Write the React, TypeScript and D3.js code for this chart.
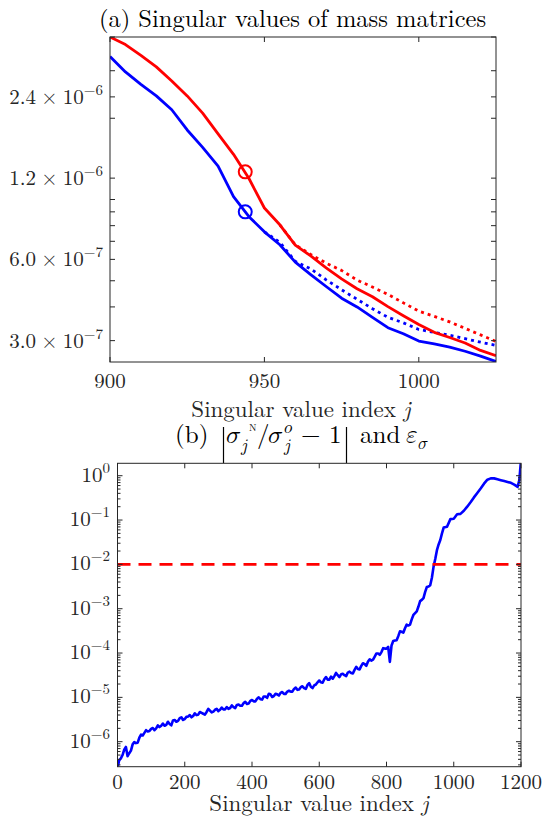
import React from 'react';
import * as d3 from 'd3';

// ---------- Panel (a) data ----------
const topIdx = [900, 905, 910, 915, 920, 925, 930, 935, 940, 945, 950, 955, 960, 965, 970, 975, 980, 985, 990, 995, 1000, 1005, 1010, 1015, 1020, 1025];
const redSolid = [4.0e-6, 3.75e-6, 3.42e-6, 3.10e-6, 2.75e-6, 2.42e-6, 2.09e-6, 1.75e-6, 1.47e-6, 1.196e-6, 9.3e-7, 8.06e-7, 6.78e-7, 6.18e-7, 5.58e-7, 5.08e-7, 4.67e-7, 4.36e-7, 4.01e-7, 3.71e-7, 3.44e-7, 3.22e-7, 3.08e-7, 2.94e-7, 2.76e-7, 2.64e-7];
const blueSolid = [3.39e-6, 2.97e-6, 2.67e-6, 2.42e-6, 2.15e-6, 1.81e-6, 1.56e-6, 1.33e-6, 1.024e-6, 8.64e-7, 7.59e-7, 6.8e-7, 5.86e-7, 5.27e-7, 4.76e-7, 4.31e-7, 4.0e-7, 3.66e-7, 3.35e-7, 3.18e-7, 2.99e-7, 2.92e-7, 2.84e-7, 2.74e-7, 2.63e-7, 2.51e-7];
const redDotIdx = [955, 960, 965, 970, 975, 980, 985, 990, 995, 1000, 1005, 1010, 1015, 1020, 1025];
const redDotted = [8.06e-7, 6.79e-7, 6.26e-7, 5.81e-7, 5.46e-7, 5.03e-7, 4.74e-7, 4.45e-7, 4.14e-7, 3.86e-7, 3.69e-7, 3.52e-7, 3.33e-7, 3.15e-7, 2.98e-7];
const blueDotIdx = [950, 955, 960, 965, 970, 975, 980, 985, 990, 995, 1000, 1005, 1010, 1015, 1020, 1025];
const blueDotted = [7.59e-7, 6.94e-7, 5.9e-7, 5.53e-7, 5.04e-7, 4.63e-7, 4.27e-7, 3.94e-7, 3.66e-7, 3.49e-7, 3.3e-7, 3.22e-7, 3.14e-7, 3.05e-7, 2.96e-7, 2.88e-7];
const markerIdx = 943.8;
const redMarker = 1.266e-6;
const blueMarker = 9.0e-7;
const topXTicks = [900, 950, 1000];
const topYTicks = [3e-7, 6e-7, 1.2e-6, 2.4e-6];
const topYTickMant = ['3.0', '6.0', '1.2', '2.4'];
const topYTickExp = ['−7', '−7', '−6', '−6'];
const topYMinor = [4e-7, 5e-7, 7e-7, 8e-7, 9e-7, 1e-6, 2e-6, 3e-6, 4e-6];

// ---------- Panel (b) data ----------
const botIdx = [
  1, 5, 10, 15, 20, 25, 30, 35, 40, 45, 50, 55, 60, 65, 70, 75, 80, 85, 90, 95,
  100, 105, 110, 115, 120, 125, 130, 135, 140, 145, 150, 155, 160, 165, 170, 175, 180, 185, 190, 195,
  200, 205, 210, 215, 220, 225, 230, 235, 240, 245, 250, 255, 260, 265, 270, 275, 280, 285, 290, 295,
  300, 305, 310, 315, 320, 325, 330, 335, 340, 345, 350, 355, 360, 365, 370, 375, 380, 385, 390, 395,
  400, 405, 410, 415, 420, 425, 430, 435, 440, 445, 450, 455, 460, 465, 470, 475, 480, 485, 490, 495,
  500, 505, 510, 515, 520, 525, 530, 535, 540, 545, 550, 555, 560, 565, 570, 575, 580, 585, 590, 595,
  600, 605, 610, 615, 620, 625, 630, 635, 640, 645, 650, 655, 660, 665, 670, 675, 680, 685, 690, 695,
  700, 705, 710, 715, 720, 725, 730, 735, 740, 745, 750, 755, 760, 765, 770, 775, 780, 785, 790, 795,
  800, 805, 810, 815, 820, 825, 830, 835, 840, 845, 850, 855, 860, 865, 870, 875, 880, 885, 890, 895,
  900, 905, 910, 915, 920, 925, 930, 935, 940, 945, 950, 955, 960, 965, 970, 980, 990,
  1000, 1010, 1020, 1030, 1040, 1050, 1060, 1070, 1080, 1090, 1100, 1110, 1120, 1130, 1140, 1150, 1160, 1170, 1180, 1190, 1195, 1200,
];
const relErr = [
  2.75e-7, 3.8e-7, 4.2e-7, 5.0e-7, 6.6e-7, 7.6e-7, 4.7e-7, 5.5e-7, 6.3e-7, 8.7e-7, 9.8e-7, 9.3e-7, 9.5e-7, 1.23e-6, 1.45e-6, 1.38e-6, 1.58e-6, 1.82e-6, 1.7e-6, 1.74e-6,
  1.95e-6, 2.04e-6, 1.82e-6, 2.0e-6, 2.34e-6, 2.14e-6, 2.29e-6, 2.57e-6, 2.29e-6, 2.4e-6, 2.82e-6, 2.51e-6, 2.34e-6, 3.02e-6, 3.09e-6, 2.82e-6, 2.95e-6, 3.39e-6, 3.55e-6, 3.09e-6,
  3.24e-6, 3.63e-6, 3.72e-6, 3.98e-6, 3.55e-6, 3.8e-6, 4.37e-6, 3.98e-6, 4.07e-6, 4.68e-6, 4.47e-6, 4.27e-6, 4.07e-6, 4.68e-6, 5.5e-6, 5.01e-6, 4.57e-6, 4.79e-6, 5.25e-6, 5.5e-6,
  4.9e-6, 5.25e-6, 5.89e-6, 5.37e-6, 5.37e-6, 6.03e-6, 5.5e-6, 5.75e-6, 6.61e-6, 6.03e-6, 5.75e-6, 6.76e-6, 6.92e-6, 6.46e-6, 6.46e-6, 7.41e-6, 7.94e-6, 7.08e-6, 7.24e-6, 8.32e-6,
  8.71e-6, 8.13e-6, 8.13e-6, 9.33e-6, 1.0e-5, 9.12e-6, 8.91e-6, 1.05e-5, 1.05e-5, 9.77e-6, 1.2e-5, 1.17e-5, 1.02e-5, 1.07e-5, 1.2e-5, 1.17e-5, 1.1e-5, 1.26e-5, 1.32e-5, 1.2e-5,
  1.2e-5, 1.35e-5, 1.41e-5, 1.35e-5, 1.35e-5, 1.55e-5, 1.66e-5, 1.48e-5, 1.51e-5, 1.7e-5, 1.78e-5, 1.62e-5, 1.55e-5, 1.91e-5, 2.09e-5, 1.74e-5, 1.62e-5, 1.86e-5, 1.95e-5, 2.19e-5,
  2.4e-5, 2.19e-5, 2.14e-5, 2.57e-5, 2.88e-5, 2.51e-5, 2.51e-5, 2.95e-5, 2.63e-5, 3.02e-5, 3.55e-5, 3.16e-5, 2.88e-5, 3.31e-5, 3.39e-5, 3.16e-5, 3.02e-5, 3.63e-5, 3.8e-5, 3.55e-5,
  3.47e-5, 4.17e-5, 4.9e-5, 4.37e-5, 4.27e-5, 5.13e-5, 5.89e-5, 5.62e-5, 5.13e-5, 6.46e-5, 7.24e-5, 6.76e-5, 7.08e-5, 8.32e-5, 9.77e-5, 9.77e-5, 9.12e-5, 1.05e-4, 1.29e-4, 1.26e-4,
  1.26e-4, 1.38e-4, 6.31e-5, 1.48e-4, 1.86e-4, 1.91e-4, 1.95e-4, 2.4e-4, 3.09e-4, 3.02e-4, 2.88e-4, 3.63e-4, 4.37e-4, 4.17e-4, 4.37e-4, 5.75e-4, 7.24e-4, 7.94e-4, 8.71e-4, 1.12e-3,
  1.48e-3, 1.58e-3, 1.74e-3, 2.4e-3, 3.09e-3, 3.16e-3, 3.39e-3, 5.01e-3, 8.9e-3, 1.32e-2, 2.09e-2, 2.82e-2, 3.55e-2, 5.01e-2, 6.76e-2, 7.08e-2, 1.05e-1,
  1.07e-1, 1.35e-1, 1.38e-1, 1.62e-1, 2.0e-1, 2.51e-1, 3.24e-1, 4.07e-1, 5.13e-1, 6.61e-1, 8.13e-1, 8.71e-1, 8.71e-1, 8.32e-1, 7.94e-1, 7.59e-1, 7.24e-1, 6.92e-1, 6.31e-1, 5.62e-1, 7.94e-1, 2.24,
];
const epsSigma = 1e-2;
const botXTicks = [0, 200, 400, 600, 800, 1000, 1200];
const botYExps = [-6, -5, -4, -3, -2, -1, 0];

const FONT = '"Latin Modern Roman"';
const MATH = '"Latin Modern Math"';
const AX = '#262626';

export default function App() {
  // panel (a)
  const xa = d3.scaleLinear().domain([900, 1025]).range([110, 496]);
  const ya = d3.scaleLog().domain([2.5e-7, 4.0e-6]).range([362, 37]);
  // panel (b)
  const xb = d3.scaleLinear().domain([0, 1200]).range([117.5, 521]);
  const yb = d3.scaleLog().domain([Math.pow(10, -6.564), Math.pow(10, 0.28)]).range([766.7, 463.3]);

  const lineA = (idx: number[]) => d3.line<number>().x((_, i) => xa(idx[i])).y((d) => ya(d));
  const lineB = d3.line<number>().x((_, i) => xb(botIdx[i])).y((d) => yb(d));

  const botMinor: number[] = [];
  for (let e = -7; e <= 0; e++) for (let m = 2; m <= 9; m++) {
    const v = m * Math.pow(10, e);
    if (v > yb.domain()[0] && v < yb.domain()[1]) botMinor.push(v);
  }

  const [ax0, ax1] = xa.range();
  const [ay1, ay0] = ya.range();
  const [bx0, bx1] = xb.range();
  const [by1, by0] = yb.range();
  const fs = (size: number, extra: React.CSSProperties = {}): React.CSSProperties => ({ fontFamily: FONT, fontSize: size, ...extra });
  const ms = (size: number): React.CSSProperties => ({ fontFamily: MATH, fontSize: size });

  return (
    <svg width={547} height={821} style={{ position: 'absolute', left: 0, top: 0, background: '#fff' }}>
      <rect width={547} height={821} fill="#fff" />
      <defs>
        <clipPath id="clipA"><rect x={ax0} y={ay0} width={ax1 - ax0} height={ay1 - ay0} /></clipPath>
        <clipPath id="clipB"><rect x={bx0} y={by0} width={bx1 - bx0} height={by1 - by0} /></clipPath>
      </defs>

      {/* ---------------- Panel (a) ---------------- */}
      <text x={292.5} y={27} style={fs(24.5)} textAnchor="middle" fill="#000">(a) Singular values of mass matrices</text>
      <g clipPath="url(#clipA)" fill="none" strokeWidth={2.8}>
        <path d={lineA(redDotIdx)(redDotted) || ''} stroke="#ff0000" strokeDasharray="3 4" />
        <path d={lineA(blueDotIdx)(blueDotted) || ''} stroke="#0000ff" strokeDasharray="3 4" />
        <path d={lineA(topIdx)(redSolid) || ''} stroke="#ff0000" strokeLinejoin="round" />
        <path d={lineA(topIdx)(blueSolid) || ''} stroke="#0000ff" strokeLinejoin="round" />
        <circle cx={xa(markerIdx)} cy={ya(redMarker)} r={6.5} stroke="#ff0000" strokeWidth={2} />
        <circle cx={xa(markerIdx)} cy={ya(blueMarker)} r={6.5} stroke="#0000ff" strokeWidth={2} />
      </g>
      <rect x={ax0} y={ay0} width={ax1 - ax0} height={ay1 - ay0} fill="none" stroke={AX} strokeWidth={1} />
      <g stroke={AX} strokeWidth={1}>
        {topXTicks.map((t) => (
          <g key={'xa' + t}>
            <line x1={xa(t)} x2={xa(t)} y1={ay1} y2={ay1 - 5} />
            <line x1={xa(t)} x2={xa(t)} y1={ay0} y2={ay0 + 5} />
          </g>
        ))}
        {topYTicks.concat(topYMinor).map((t) => (
          <g key={'ya' + t}>
            <line x1={ax0} x2={ax0 + 5} y1={ya(t)} y2={ya(t)} />
            <line x1={ax1} x2={ax1 - 5} y1={ya(t)} y2={ya(t)} />
          </g>
        ))}
      </g>
      <g fill={AX}>
        {topXTicks.map((t) => (
          <text key={'xla' + t} x={xa(t)} y={388} style={fs(21)} textAnchor="middle">{t}</text>
        ))}
        {topYTicks.map((t, i) => (
          <text key={'yla' + t} x={103} y={ya(t) + 7} style={fs(21)} textAnchor="end">
            {topYTickMant[i] + '\u2005×\u200510'}
            <tspan style={fs(15)} dy={-9}>{topYTickExp[i]}</tspan>
          </text>
        ))}
      </g>
      <text x={301} y={417} style={fs(23)} textAnchor="middle" fill={AX}>
        Singular value index <tspan style={fs(23, { fontStyle: 'italic' })}>j</tspan>
      </text>

      {/* ---------------- Panel (b) ---------------- */}
      <g fill="#000">
        <text x={175} y={443} style={fs(25)}>(b)</text>
        <line x1={223.5} x2={223.5} y1={427} y2={463} stroke="#000" strokeWidth={1.2} />
        <text x={226} y={443} style={ms(25)}>𝜎</text>
        <text x={241} y={451} style={ms(17)}>𝑗</text>
        <text x={249} y={431} style={fs(10)}>N</text>
        <text x={257} y={443} style={fs(25)}>/</text>
        <text x={268} y={443} style={ms(25)}>𝜎</text>
        <text x={284} y={433} style={ms(17)}>𝑜</text>
        <text x={284} y={451} style={ms(17)}>𝑗</text>
        <text x={301} y={443} style={fs(25)}>−</text>
        <text x={329} y={443} style={fs(25)}>1</text>
        <line x1={346.5} x2={346.5} y1={427} y2={463} stroke="#000" strokeWidth={1.2} />
        <text x={360} y={443} style={fs(25)}>and</text>
        <text x={406} y={443} style={ms(25)}>𝜀</text>
        <text x={418} y={449} style={ms(17)}>𝜎</text>
      </g>
      <g clipPath="url(#clipB)" fill="none">
        <path d={lineB(relErr) || ''} stroke="#0000ff" strokeWidth={2.6} strokeLinejoin="round" />
        <line x1={bx0} x2={bx1} y1={yb(epsSigma)} y2={yb(epsSigma)} stroke="#ff0000" strokeWidth={2.8} strokeDasharray="13 8" />
      </g>
      <rect x={bx0} y={by0} width={bx1 - bx0} height={by1 - by0} fill="none" stroke={AX} strokeWidth={1} />
      <g stroke={AX} strokeWidth={1}>
        {botXTicks.map((t) => (
          <g key={'xb' + t}>
            <line x1={xb(t)} x2={xb(t)} y1={by1} y2={by1 - 5} />
            <line x1={xb(t)} x2={xb(t)} y1={by0} y2={by0 + 5} />
          </g>
        ))}
        {botYExps.map((e) => (
          <g key={'yb' + e}>
            <line x1={bx0} x2={bx0 + 5} y1={yb(Math.pow(10, e))} y2={yb(Math.pow(10, e))} />
            <line x1={bx1} x2={bx1 - 5} y1={yb(Math.pow(10, e))} y2={yb(Math.pow(10, e))} />
          </g>
        ))}
        {botMinor.map((v) => (
          <g key={'ybm' + v}>
            <line x1={bx0} x2={bx0 + 3} y1={yb(v)} y2={yb(v)} />
            <line x1={bx1} x2={bx1 - 3} y1={yb(v)} y2={yb(v)} />
          </g>
        ))}
      </g>
      <g fill={AX}>
        {botXTicks.map((t) => (
          <text key={'xlb' + t} x={xb(t)} y={789} style={fs(21)} textAnchor="middle">{t}</text>
        ))}
        {botYExps.map((e) => (
          <text key={'ylb' + e} x={110} y={yb(Math.pow(10, e)) + 6} style={fs(21)} textAnchor="end">
            10
            <tspan style={fs(15)} dy={-9}>{e < 0 ? '−' + Math.abs(e) : String(e)}</tspan>
          </text>
        ))}
      </g>
      <text x={319} y={811} style={fs(23)} textAnchor="middle" fill={AX}>
        Singular value index <tspan style={fs(23, { fontStyle: 'italic' })}>j</tspan>
      </text>
    </svg>
  );
}
